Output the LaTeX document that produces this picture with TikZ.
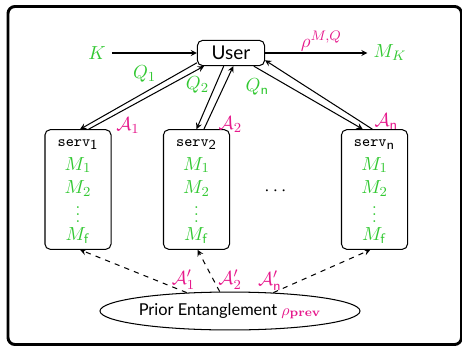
\documentclass[tikz,border=0pt]{standalone}
\usepackage{amsmath}
\usepackage{amssymb}
\usepackage[no-math]{fontspec}
\setsansfont{Lato}
\usetikzlibrary{arrows,shapes.geometric,positioning}
\definecolor{qgreen}{RGB}{50,200,50}
\definecolor{amag}{RGB}{230,25,140}
\tikzset{box/.style={draw,rounded corners=3pt}}
\tikzset{serv/.style={box, minimum width=38.3pt, minimum height=66.7pt, align=center, text=qgreen, font=\fontsize{11}{13.6}\selectfont}}
\tikzset{lab/.style={inner sep=1pt}}
\newcommand{\servcol}[1]{\rule{0pt}{6.5pt}\textcolor{black}{{\fontsize{9}{13.6}\selectfont\texttt{serv}}$_{\mathsf{#1}}$}\\ $M_1$\\ $M_2$\\ \smash{\raisebox{-3pt}{$\vdots$}}\\ $M_{\mathsf{f}}$}

\begin{document}
\begin{tikzpicture}[x=0.58pt, y=-0.58pt, >=stealth, semithick, font=\fontsize{11}{13.6}\selectfont]
\useasboundingbox (0,0) rectangle (462,347);
\draw[line width=1.7pt, rounded corners=4pt] (8,6.5) rectangle (461.5,344.5);

\node[box, minimum width=38.9pt, minimum height=12.8pt, font=\fontsize{11}{13}\sffamily] (user) at (231,53) {User};
\node[text=qgreen] (k) at (97,53) {$K$};
\node[text=qgreen] (mk) at (390,53) {$M_K$};

\node[serv] (s1) at (78,189.5) {\servcol{1}};
\node[serv] (s2) at (196.5,189.5) {\servcol{2}};
\node[serv] (sn) at (374.5,189.5) {\servcol{n}};
\node (dots) at (277,191) {$\cdots$};

\node[draw, ellipse, minimum width=150.8pt, minimum height=22pt, inner sep=0pt, font=\fontsize{9.5}{11}\sffamily] (prior) at (230,311) {Prior Entanglement \textcolor{amag}{$\rho_{\mathbf{prev}}$}};

\draw[->] (k) -- (user);
\draw[->] (user) -- node[lab, above, pos=0.55, text=amag] {$\rho^{M,Q}$} (mk);

\path[->](user.196) edge node[lab, pos=0.33, anchor=south east, text=qgreen] {$Q_1$} (s1.88)
(s1.80) edge node[lab, pos=0.22, anchor=north west, text=amag] {$\mathcal{A}_1$} (user.206)
(user.241) edge node[lab, pos=0.46, anchor=south east, text=qgreen] {$Q_2$} (s2.90)
(s2.83) edge node[lab, pos=0.075, anchor=west, xshift=6pt, text=amag] {$\mathcal{A}_2$} (user.280)
(user.330) edge node[lab, pos=0.16, anchor=north east, text=qgreen] {$Q_{\mathsf{n}}$} (sn.101)
(sn.92.5) edge node[lab, at start, anchor=south west, yshift=-1.5pt, text=amag] {$\mathcal{A}_{\mathsf{n}}$} (user.348)
;

\path[->, dashed](prior.157) edge node[lab, pos=0.03, anchor=south, text=amag] {$\mathcal{A}'_1$} (s1.272)
(prior.118) edge node[lab, at start, anchor=south west, xshift=-2pt, text=amag] {$\mathcal{A}'_2$} (s2.271)
(prior.23) edge node[lab, at start, anchor=south, xshift=-2pt, text=amag] {$\mathcal{A}'_{\mathsf{n}}$} (sn.266)
;
\end{tikzpicture}
\end{document}
